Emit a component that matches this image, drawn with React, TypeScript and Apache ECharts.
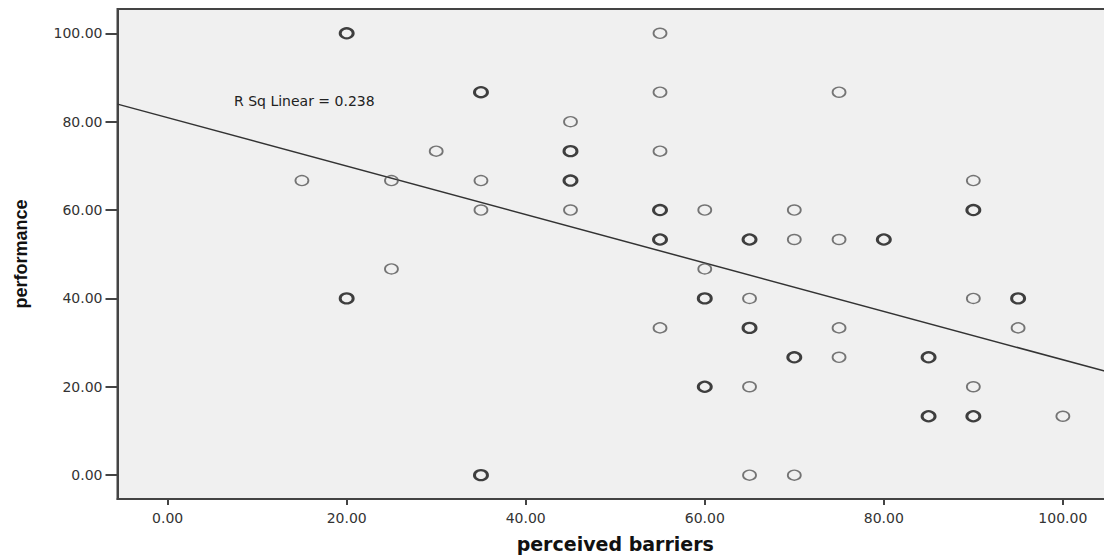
import React, { useEffect, useRef } from "react";
import * as echarts from "echarts";

// Single observations (thin circles)
const barriersSingle = [15, 25, 25, 30, 35, 35, 45, 45, 55, 55, 55, 55, 60, 60, 65, 65, 65, 70, 70, 70, 75, 75, 75, 75, 90, 90, 90, 95, 100];
const performanceSingle = [66.67, 66.67, 46.67, 73.33, 66.67, 60, 80, 60, 100, 86.67, 73.33, 33.33, 60, 46.67, 40, 20, 0, 60, 53.33, 0, 86.67, 53.33, 33.33, 26.67, 66.67, 40, 20, 33.33, 13.33];

// Overlapping observations (bold circles)
const barriersMulti = [20, 20, 35, 35, 45, 45, 55, 55, 60, 60, 65, 65, 70, 80, 85, 85, 90, 90, 95];
const performanceMulti = [100, 40, 86.67, 0, 73.33, 66.67, 60, 53.33, 40, 20, 53.33, 33.33, 26.67, 53.33, 26.67, 13.33, 60, 13.33, 40];

// Linear fit
const fitIntercept = 80.9;
const fitSlope = -0.548;
const rSquared = 0.238;

const tickValues = [0, 20, 40, 60, 80, 100];
const xRange = [-5.6, 105.6];
const yRange = [-5.4, 105.5];

export default function App() {
  const ref = useRef<HTMLDivElement>(null);

  useEffect(() => {
    if (!ref.current) return;
    document.body.style.overflow = "hidden";
    const chart = echarts.init(ref.current, undefined, { renderer: "svg" });
    const single = barriersSingle.map((x, i) => [x, performanceSingle[i]]);
    const multi = barriersMulti.map((x, i) => [x, performanceMulti[i]]);
    const fit = xRange.map((x) => [x, fitIntercept + fitSlope * x]);

    const axisCommon = {
      type: "value",
      splitLine: { show: false },
      axisLine: { show: true, onZero: false, lineStyle: { color: "#444", width: 2 } },
    };

    chart.setOption({
      animation: false,
      backgroundColor: "#ffffff",
      grid: {
        left: 117.5,
        top: 9,
        right: 0,
        bottom: 55.3,
        show: true,
        backgroundColor: "#f0f0f0",
        borderColor: "#444",
        borderWidth: 2,
      },
      xAxis: {
        ...axisCommon,
        min: xRange[0],
        max: xRange[1],
        name: "perceived barriers",
        nameLocation: "middle",
        nameGap: 35,
        nameTextStyle: {
          fontFamily: "DejaVu Sans",
          fontWeight: "bold",
          fontSize: 19,
          color: "#111",
        },
        axisTick: {
          show: true,
          customValues: tickValues,
          length: 6,
          lineStyle: { color: "#444", width: 2 },
        },
        axisLabel: {
          customValues: tickValues,
          formatter: (v: number) => v.toFixed(2),
          fontFamily: "DejaVu Sans",
          fontSize: 14,
          color: "#333",
          margin: 12,
        },
      },
      yAxis: {
        ...axisCommon,
        min: yRange[0],
        max: yRange[1],
        name: "performance",
        nameLocation: "middle",
        nameRotate: 90,
        nameGap: 88,
        nameTextStyle: {
          fontFamily: "Liberation Sans",
          fontWeight: "bold",
          fontSize: 18,
          color: "#111",
        },
        axisTick: {
          show: true,
          customValues: tickValues,
          length: 12,
          lineStyle: { color: "#444", width: 2 },
        },
        axisLabel: {
          customValues: tickValues,
          formatter: (v: number) => v.toFixed(2),
          fontFamily: "DejaVu Sans",
          fontSize: 14,
          color: "#333",
          margin: 15,
        },
      },
      graphic: [
        {
          type: "text",
          left: 234,
          top: 94,
          style: {
            text: "R Sq Linear = " + rSquared.toFixed(3),
            fontFamily: "DejaVu Sans",
            fontSize: 14,
            fill: "#222",
          },
        },
      ],
      series: [
        {
          type: "line",
          data: fit,
          symbol: "none",
          lineStyle: { color: "#333", width: 1.5 },
          z: 1,
        },
        {
          type: "scatter",
          data: single,
          symbol: "circle",
          symbolSize: [13, 10],
          itemStyle: { color: "rgba(0,0,0,0)", borderColor: "#555", borderWidth: 1.6 },
          z: 2,
        },
        {
          type: "scatter",
          data: multi,
          symbol: "circle",
          symbolSize: [13, 10],
          itemStyle: { color: "rgba(0,0,0,0)", borderColor: "#111", borderWidth: 2.6 },
          z: 3,
        },
      ],
    });
    return () => chart.dispose();
  }, []);

  return (
    <div
      ref={ref}
      style={{ position: "absolute", left: 0, top: 0, width: 1113, height: 558 }}
    />
  );
}
